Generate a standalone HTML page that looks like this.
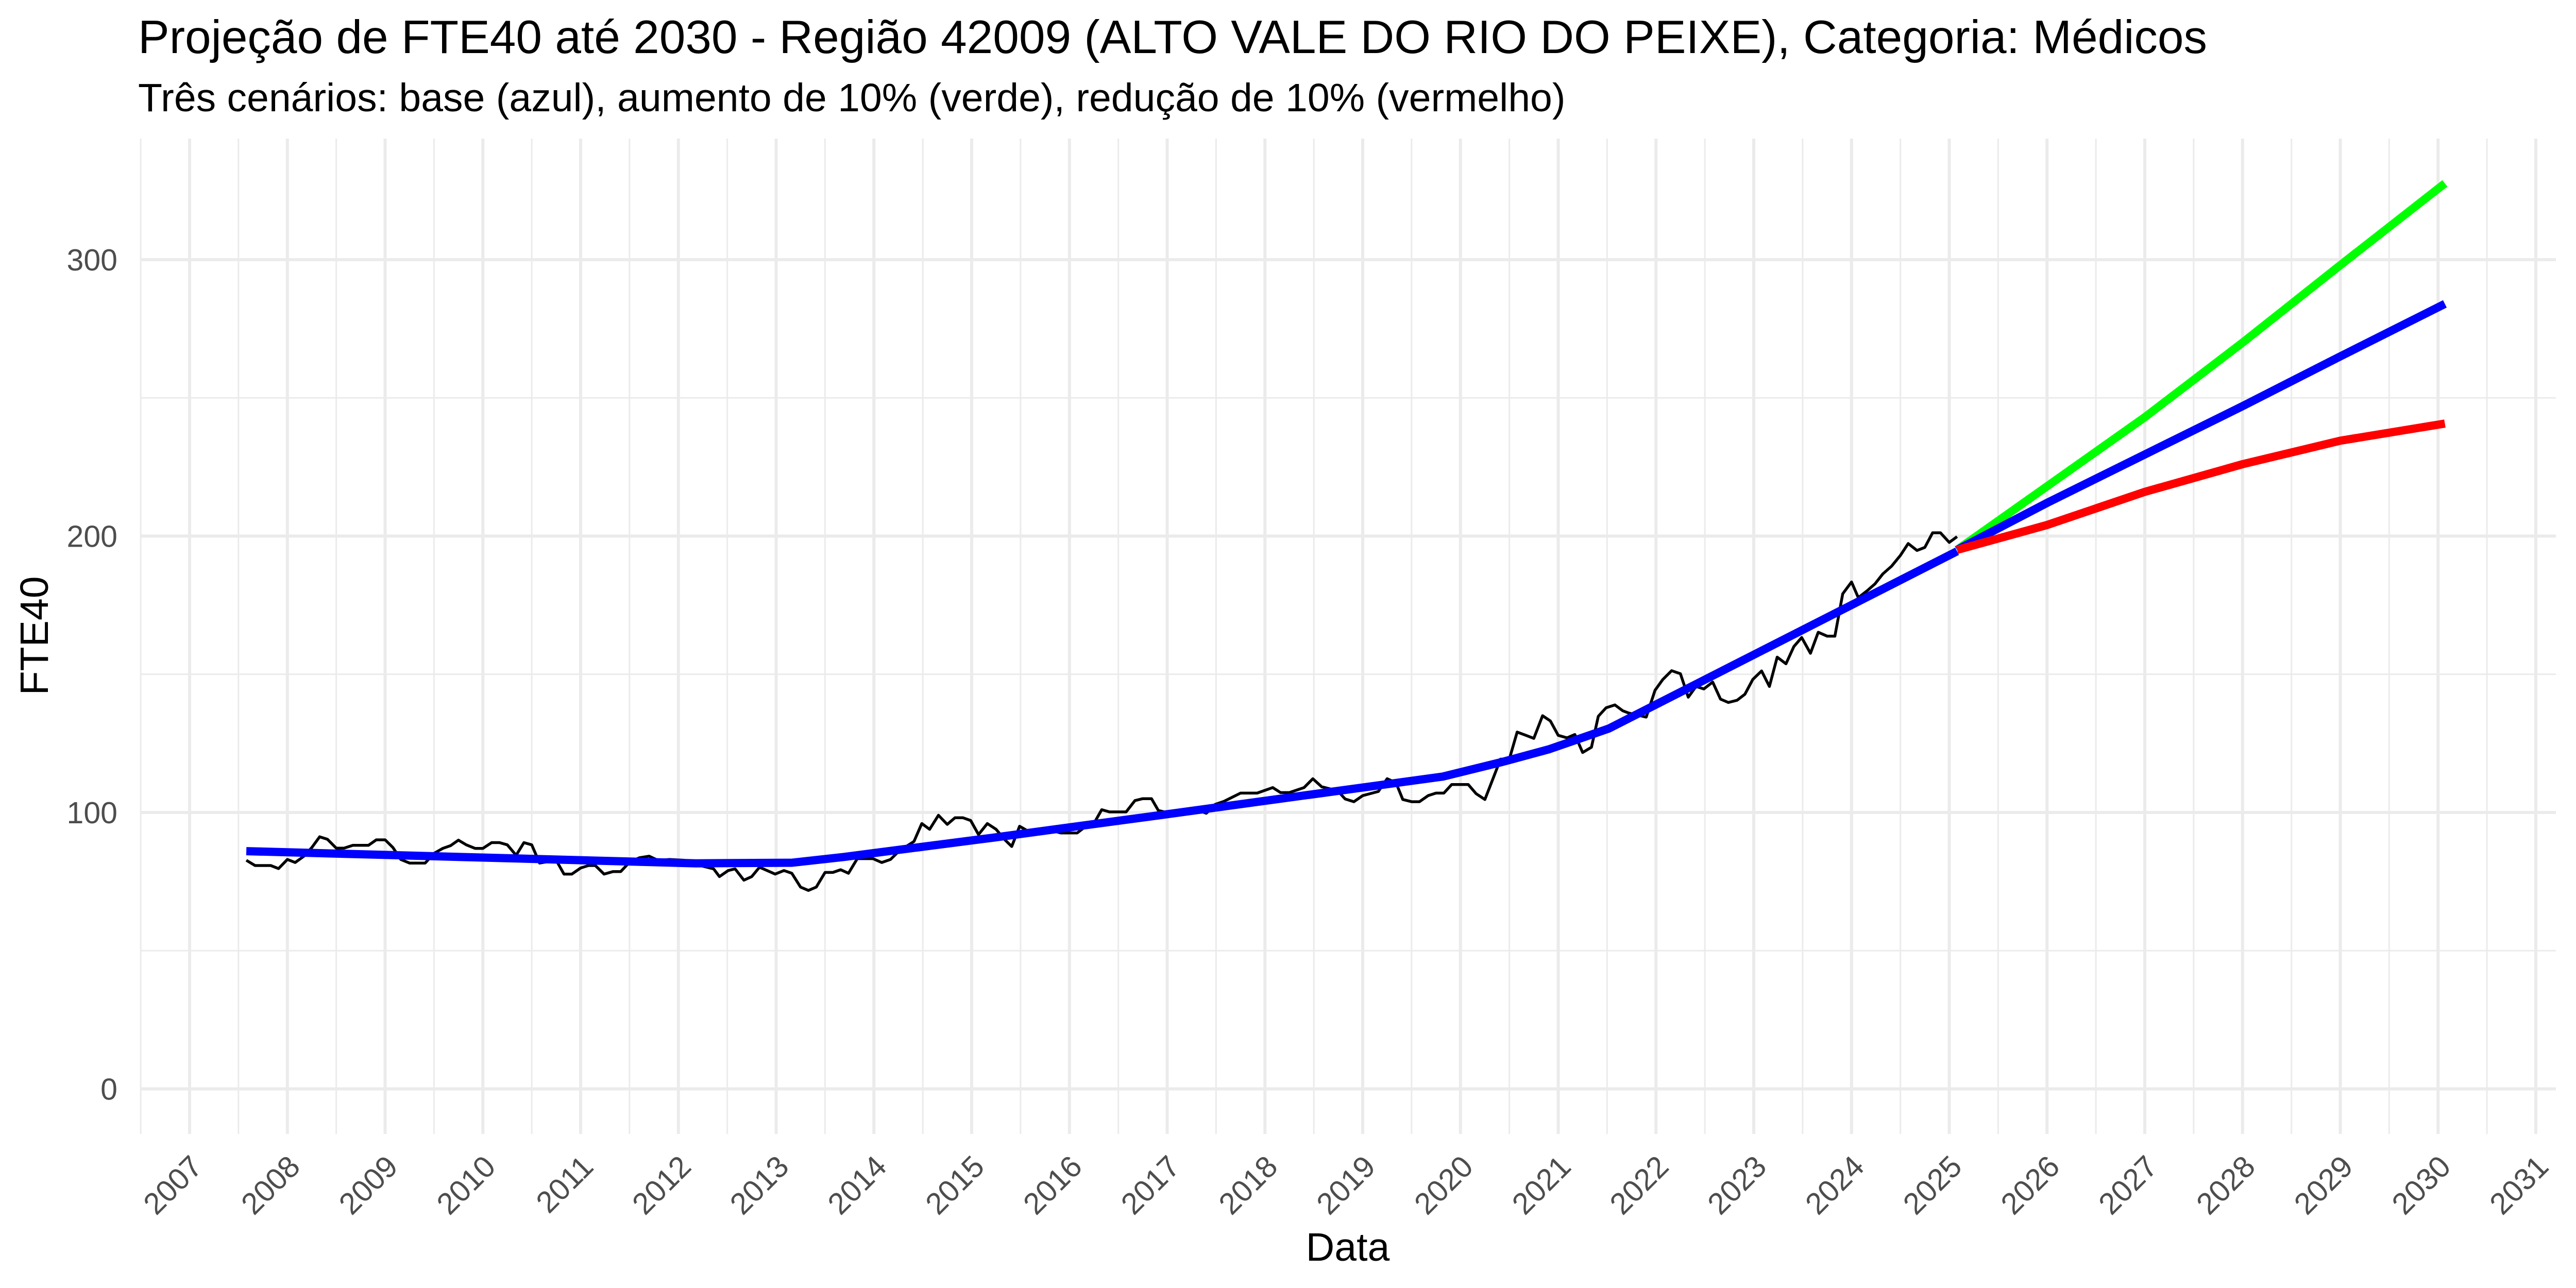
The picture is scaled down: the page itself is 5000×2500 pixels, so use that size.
<!DOCTYPE html>
<html><head><meta charset="utf-8">
<style>
html,body{margin:0;padding:0;background:#fff;}
svg{display:block;font-family:"Liberation Sans",Arial,sans-serif;}
</style></head>
<body>
<svg id="chart" width="5000" height="2500" viewBox="0 0 5000 2500" xmlns="http://www.w3.org/2000/svg">
<rect x="0" y="0" width="5000" height="2500" fill="#fff"/>
<text x="268" y="103" font-size="91" fill="#000">Projeção de FTE40 até 2030 - Região 42009 (ALTO VALE DO RIO DO PEIXE), Categoria: Médicos</text>
<text x="268" y="216" font-size="77" fill="#000">Três cenários: base (azul), aumento de 10% (verde), redução de 10% (vermelho)</text>
<g id="grid"></g>
<g id="ylabels"></g>
<g id="xlabels"></g>
<g id="series"></g>
<text x="2616" y="2447" font-size="77" text-anchor="middle" fill="#000">Data</text>
<text x="93" y="1234" font-size="77" text-anchor="middle" fill="#000" transform="rotate(-90 93 1234)">FTE40</text>
</svg>
<script>
const yTicks = [0, 100, 200, 300];
const yMinor = [50, 150, 250];
const xTickYears = [2007,2008,2009,2010,2011,2012,2013,2014,2015,2016,2017,2018,2019,2020,2021,2022,2023,2024,2025,2026,2027,2028,2029,2030,2031];
const obsYears = [2007.58,2007.67,2007.83,2007.91,2008.0,2008.08,2008.17,2008.25,2008.33,2008.41,2008.5,2008.58,2008.67,2008.83,2008.91,2009.0,2009.08,2009.16,2009.25,2009.41,2009.5,2009.59,2009.67,2009.75,2009.83,2009.92,2010.0,2010.09,2010.17,2010.25,2010.34,2010.42,2010.5,2010.58,2010.75,2010.83,2010.91,2011.0,2011.08,2011.15,2011.24,2011.33,2011.41,2011.5,2011.6,2011.7,2011.79,2011.91,2012.06,2012.2,2012.36,2012.42,2012.51,2012.58,2012.67,2012.75,2012.83,2012.99,2013.08,2013.16,2013.25,2013.33,2013.41,2013.5,2013.58,2013.66,2013.74,2013.83,2013.99,2014.08,2014.17,2014.25,2014.33,2014.41,2014.49,2014.57,2014.66,2014.75,2014.83,2014.91,2014.99,2015.07,2015.16,2015.25,2015.34,2015.41,2015.49,2015.58,2015.75,2015.91,2016.08,2016.15,2016.24,2016.33,2016.41,2016.58,2016.67,2016.75,2016.84,2016.91,2017.0,2017.16,2017.3,2017.4,2017.49,2017.58,2017.75,2017.92,2018.08,2018.16,2018.25,2018.4,2018.49,2018.58,2018.66,2018.75,2018.82,2018.91,2019.0,2019.16,2019.25,2019.34,2019.41,2019.5,2019.58,2019.67,2019.75,2019.83,2019.91,2020.08,2020.16,2020.25,2020.34,2020.41,2020.5,2020.58,2020.67,2020.75,2020.84,2020.92,2021.0,2021.09,2021.17,2021.25,2021.34,2021.41,2021.49,2021.58,2021.66,2021.72,2021.9,2021.99,2022.07,2022.16,2022.25,2022.33,2022.41,2022.49,2022.58,2022.66,2022.74,2022.83,2022.91,2022.99,2023.08,2023.16,2023.24,2023.33,2023.41,2023.49,2023.58,2023.66,2023.75,2023.83,2023.91,2024.0,2024.07,2024.16,2024.24,2024.32,2024.41,2024.5,2024.58,2024.67,2024.75,2024.83,2024.91,2025.0,2025.08];
const obsValues = [82.7,80.8,80.8,79.7,83,81.9,84.2,87.3,91.2,90.3,87.1,87.1,88.1,88.1,90.1,90.1,87.3,83,81.7,81.7,85.2,87,88,90,88.3,87,87,89.1,89.1,88.3,84.5,89.1,88.3,81.7,82.7,77.7,77.7,79.9,80.8,80.8,77.7,78.6,78.6,82,83.6,84.2,82.7,83,82.7,81,79.6,76.8,79,79.6,75.5,76.8,80.2,77.7,79,78,73,71.8,73,78.3,78.3,79.3,78,83.3,83.3,81.9,83,85.8,87.7,89.5,96,93.9,99,95.7,98.1,98.1,97.1,92,96,93.9,90.1,87.7,95,93.2,94.2,92.6,92.6,94.5,95.4,101,100.2,100.2,104.3,105,105,100.7,100,100.5,101,99.7,102.9,104,107,107,109,107.2,107.2,109,112.2,109.3,108.6,107.6,104.9,103.9,106.1,107.6,112.2,110.8,104.7,103.9,103.9,106.1,107,107,110.1,110.1,106.8,104.7,112.9,119.3,119.3,129.1,127.9,126.8,135,133.1,127.9,127,128.2,121.7,123.6,134.8,137.9,138.9,136.8,136,134.5,144.2,148.1,151.3,150.2,141.7,145.6,144.7,147.2,141,139.8,140.6,142.8,148.1,151.2,145.6,156.2,153.8,160,163.3,157.6,165.2,163.8,163.8,179.1,183.4,177.7,180.2,182.7,186.3,189.1,193,197.3,194.8,195.9,201.2,201.2,197.7,199.8];
const trendYears = [2007.58,2012.18,2013.16,2013.69,2015.2,2016.92,2019.82,2020.43,2020.91,2021.52,2025.08];
const trendValues = [86,81.6,81.8,83.9,90.8,99,113,118.3,122.9,130.4,194.5];
const projYears = [2025.08,2026,2027,2028,2029,2030.07];
const baseValues = [195,212,229.5,247,265,284];
const upValues = [195,218,243,270,298,327.6];
const downValues = [195,204,216,226,234.5,240.7];

const NS = "http://www.w3.org/2000/svg";
const panel = {left:272, right:4961, top:269, bottom:2201};
function xScale(yr){ return 368 + (yr - 2007) * 189.75; }
function yScale(v){ return 2113.5 - v * 5.365; }
function mk(tag, attrs, parent){
  const e = document.createElementNS(NS, tag);
  for (const k in attrs) e.setAttribute(k, attrs[k]);
  parent.appendChild(e);
  return e;
}
const grid = document.getElementById('grid');
yMinor.forEach(v => {
  const l = mk('line', {x1:panel.left, x2:panel.right, y1:yScale(v), y2:yScale(v), stroke:'#ebebeb', 'stroke-width':3}, grid);
  
  
});
for (let i = 0; i <= xTickYears.length; i++) {
  const yr = xTickYears[0] - 0.5 + i;
  const l = mk('line', {x1:xScale(yr), x2:xScale(yr), y1:panel.top, y2:panel.bottom, stroke:'#ebebeb', 'stroke-width':3}, grid);
  
  
}
yTicks.forEach(v => {
  const l = mk('line', {x1:panel.left, x2:panel.right, y1:yScale(v), y2:yScale(v), stroke:'#ebebeb', 'stroke-width':6}, grid);
  
  
});
xTickYears.forEach(yr => {
  const l = mk('line', {x1:xScale(yr), x2:xScale(yr), y1:panel.top, y2:panel.bottom, stroke:'#ebebeb', 'stroke-width':6}, grid);
  
  
});
const yl = document.getElementById('ylabels');
yTicks.forEach(v => {
  const t = mk('text', {x:228, y:yScale(v)+21, 'font-size':59, 'text-anchor':'end', fill:'#4d4d4d'}, yl);
  t.textContent = String(v);
  
  
});
const xl = document.getElementById('xlabels');
xTickYears.forEach(yr => {
  const ax = xScale(yr) + 28, ay = 2268;
  const t = mk('text', {x:ax, y:ay, 'font-size':59, 'text-anchor':'end', fill:'#4d4d4d', transform:'rotate(-45 '+ax+' '+ay+')'}, xl);
  t.textContent = String(yr);
  
  
});
const ser = document.getElementById('series');
function pts(xs, ys){ return xs.map((x,i)=> xScale(x).toFixed(1)+','+yScale(ys[i]).toFixed(1)).join(' '); }
const obs = mk('polyline', {points:pts(obsYears, obsValues), fill:'none', stroke:'#000', 'stroke-width':5.5, 'stroke-linejoin':'round'}, ser);


const tr = mk('polyline', {points:pts(trendYears, trendValues), fill:'none', stroke:'#0000ff', 'stroke-width':16, 'stroke-linejoin':'round'}, ser);


const gr = mk('polyline', {points:pts(projYears, upValues), fill:'none', stroke:'#00ff00', 'stroke-width':16, 'stroke-linejoin':'round'}, ser);


const bl = mk('polyline', {points:pts(projYears, baseValues), fill:'none', stroke:'#0000ff', 'stroke-width':16, 'stroke-linejoin':'round'}, ser);


const rd = mk('polyline', {points:pts(projYears, downValues), fill:'none', stroke:'#ff0000', 'stroke-width':16, 'stroke-linejoin':'round'}, ser);


</script>
</body></html>
